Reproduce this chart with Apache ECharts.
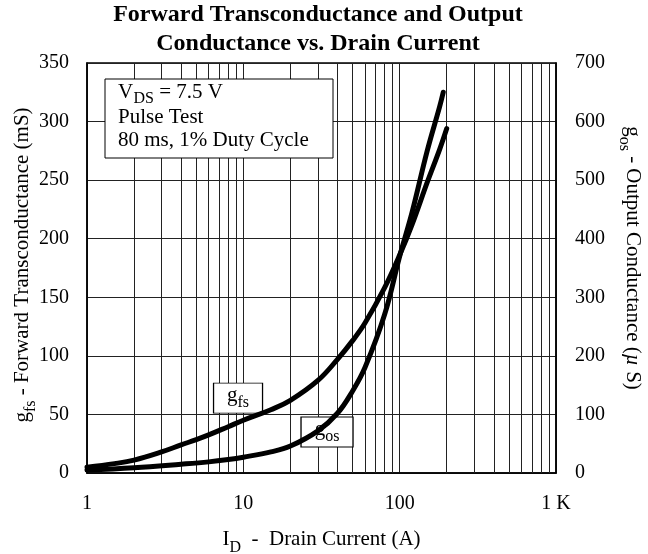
<!DOCTYPE html>
<html>
<head>
<meta charset="utf-8">
<script src="https://cdn.jsdelivr.net/npm/echarts@6/dist/echarts.min.js"></script>
<style>
html,body{margin:0;padding:0;background:#fff;}
#chart{width:648px;height:554px;}
</style>
</head>
<body>
<div id="chart"></div>
<script>
// Drain current (A) and curves
var gfsCurrent = [1, 1.5, 2, 3, 4, 5, 6, 8, 10, 15, 20, 30, 40, 50, 60, 80, 100, 120, 150, 180, 200];
var gfsValues  = [5, 8, 11, 18, 24, 28.5, 32.5, 39.5, 45, 54, 62, 79, 97, 113, 128, 158, 186, 212, 248, 276, 294];
var gosCurrent = [1, 2, 4, 6, 8, 10, 15, 20, 30, 40, 50, 60, 80, 100, 120, 150, 180, 190];
var gosValues  = [5, 9, 15, 19, 23, 27, 36, 46, 72, 102, 140, 180, 270, 370, 445, 550, 625, 650];
var xMinorGrid = [2,3,4,5,6,7,8,9,20,30,40,50,60,70,80,90,200,300,400,500,600,700,800,900];
var xTickLabels = {1:'1', 10:'10', 100:'100', 1000:'1 K'};

var FONT = '"Liberation Serif", "Times New Roman", serif';
var chart = echarts.init(document.getElementById('chart'), null, {renderer: 'canvas'});

function pairs(xs, ys){ return xs.map(function(x,i){ return [x, ys[i]]; }); }

var subRich = {
  n: {fontFamily: FONT, fontSize: 21, color: '#000', lineHeight: 27, verticalAlign: 'top'},
  s: {fontFamily: FONT, fontSize: 16, color: '#000', lineHeight: 16, verticalAlign: 'bottom'},
  mu: {fontFamily: FONT, fontSize: 21, color: '#000', fontStyle: 'italic', lineHeight: 27, verticalAlign: 'top'}
};

var option = {
  animation: false,
  backgroundColor: '#fff',
  grid: {left: 87, right: 92, top: 63, bottom: 81, containLabel: false, outerBoundsMode: 'none',
         show: true, borderColor: '#000', borderWidth: 1.5, backgroundColor: 'transparent'},
  graphic: [
    {type: 'text', x: 318, y: 0, style: {text: 'Forward Transconductance and Output\nConductance vs. Drain Current', textAlign: 'center', font: 'bold 24px ' + FONT, fill: '#000', lineHeight: 29}},
    {type: 'rect', shape: {x: 105, y: 79, width: 228, height: 79}, style: {fill: '#fff', stroke: '#000', lineWidth: 1}, z: 50},
    {type: 'text', x: 118, y: 82, z: 51, style: {text: 'V', font: '21px ' + FONT, fill: '#000'}},
    {type: 'text', x: 133.5, y: 91, z: 51, style: {text: 'DS', font: '16px ' + FONT, fill: '#000'}},
    {type: 'text', x: 154, y: 82, z: 51, style: {text: ' = 7.5 V', font: '21px ' + FONT, fill: '#000'}},
    {type: 'text', x: 118, y: 107, z: 51, style: {text: 'Pulse Test', font: '21px ' + FONT, fill: '#000'}},
    {type: 'text', x: 118, y: 130, z: 51, style: {text: '80 ms, 1% Duty Cycle', font: '21px ' + FONT, fill: '#000'}}
  ],
  xAxis: {
    type: 'log', logBase: 10, min: 1, max: 1000,
    name: '{n|I}{s|D}{n|  -  Drain Current (A)}',
    nameLocation: 'middle', nameGap: 56,
    nameTextStyle: {rich: subRich},
    axisLine: {show: true, lineStyle: {color: '#000', width: 1.5}},
    axisTick: {show: false},
    axisLabel: {margin: 21, fontFamily: FONT, fontSize: 20, color: '#000', formatter: function(v){ return xTickLabels[v] !== undefined ? xTickLabels[v] : ''; }},
    splitLine: {show: true, lineStyle: {color: '#222', width: 1}}
  },
  yAxis: [
    {
      type: 'value', min: 0, max: 350, interval: 50, position: 'left',
      name: '{n|g}{s|fs}{n| - Forward Transconductance (mS)}',
      nameLocation: 'middle', nameGap: 48, nameRotate: 90, nameMoveOverlap: false,
      nameTextStyle: {rich: subRich, padding: [0, 0, 0, 6]},
      axisLine: {show: true, lineStyle: {color: '#000', width: 1.5}},
      axisTick: {show: false},
      axisLabel: {margin: 18, fontFamily: FONT, fontSize: 20, color: '#000'},
      splitLine: {show: true, lineStyle: {color: '#222', width: 1}}
    },
    {
      type: 'value', min: 0, max: 700, interval: 100, position: 'right',
      name: '{n|g}{s|os}{n| - Output Conductance (}{mu|µ}{n| S)}',
      nameLocation: 'middle', nameGap: 60, nameRotate: -90,
      nameTextStyle: {rich: subRich, padding: [0, 20, 0, 0]},
      axisLine: {show: true, lineStyle: {color: '#000', width: 1.5}},
      axisTick: {show: false},
      axisLabel: {margin: 19, fontFamily: FONT, fontSize: 20, color: '#000'},
      splitLine: {show: false}
    }
  ],
  series: [
    {
      type: 'line', name: 'grid', data: [], z: 1, silent: true,
      markLine: {
        silent: true, symbol: ['none', 'none'], label: {show: false},
        lineStyle: {type: 'solid', color: '#222', width: 1},
        emphasis: {disabled: true},
        data: xMinorGrid.map(function(v){ return {xAxis: v}; })
      }
    },
    {
      type: 'line', name: 'gfs', yAxisIndex: 0, z: 5,
      data: pairs(gfsCurrent, gfsValues),
      smooth: 0.4, showSymbol: false, symbol: 'none',
      lineStyle: {color: '#000', width: 5, cap: 'round'},
      markPoint: {
        symbol: 'rect', symbolSize: [49, 30], silent: true,
        itemStyle: {color: '#fff', borderColor: '#000', borderWidth: 1},
        label: {show: true, position: 'inside', formatter: '{g|g}{s|fs}', rich: {
          g: {fontFamily: FONT, fontSize: 21, color: '#000', lineHeight: 26, verticalAlign: 'top'},
          s: {fontFamily: FONT, fontSize: 16, color: '#000', lineHeight: 16, verticalAlign: 'bottom'}
        }},
        data: [{coord: [9.25, 64]}]
      }
    },
    {
      type: 'line', name: 'gos', yAxisIndex: 1, z: 5,
      data: pairs(gosCurrent, gosValues),
      smooth: 0.4, showSymbol: false, symbol: 'none',
      lineStyle: {color: '#000', width: 5, cap: 'round'},
      markPoint: {
        symbol: 'rect', symbolSize: [52, 30], silent: true,
        itemStyle: {color: '#fff', borderColor: '#000', borderWidth: 1},
        label: {show: true, position: 'inside', formatter: '{g|g}{s|os}', rich: {
          g: {fontFamily: FONT, fontSize: 21, color: '#000', lineHeight: 26, verticalAlign: 'top'},
          s: {fontFamily: FONT, fontSize: 16, color: '#000', lineHeight: 16, verticalAlign: 'bottom'}
        }},
        data: [{coord: [34.3, 70]}]
      }
    }
  ]
};
chart.setOption(option);
</script>
</body>
</html>
